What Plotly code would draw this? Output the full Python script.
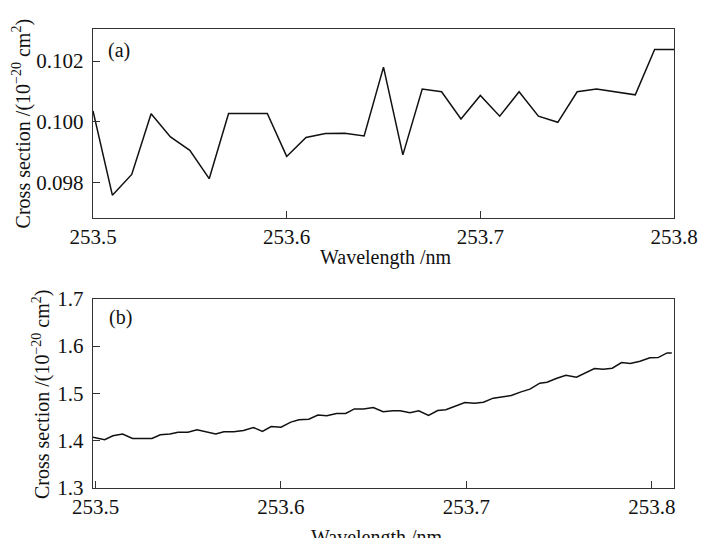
import plotly.graph_objects as go

# Panel (a): coarse spectrum, 0.01 nm sampling
wl_a = [253.50, 253.51, 253.52, 253.53, 253.54, 253.55, 253.56, 253.57, 253.58, 253.59,
        253.60, 253.61, 253.62, 253.63, 253.64, 253.65, 253.66, 253.67, 253.68, 253.69,
        253.70, 253.71, 253.72, 253.73, 253.74, 253.75, 253.76, 253.77, 253.78, 253.79,
        253.80]
xs_a = [0.10036, 0.09760, 0.09828, 0.10027, 0.09951, 0.09907, 0.09814, 0.10028, 0.10028, 0.10028,
        0.09887, 0.09949, 0.09962, 0.09963, 0.09954, 0.10180, 0.09892, 0.10108, 0.10099, 0.10010,
        0.10087, 0.10019, 0.10099, 0.10019, 0.09999, 0.10099, 0.10108, 0.10098, 0.10089, 0.10238,
        0.10238]

# Panel (b): fine spectrum
wl_b = [253.4984, 253.5049, 253.5093, 253.5146, 253.5199, 253.5251, 253.5304, 253.5349,
        253.5401, 253.5445, 253.5498, 253.5547, 253.5595, 253.5648, 253.5692, 253.5745,
        253.5798, 253.5851, 253.5900, 253.5947, 253.6000, 253.6053, 253.6097, 253.6150,
        253.6199, 253.6247, 253.6300, 253.6349, 253.6396, 253.6445, 253.6498, 253.6551,
        253.6604, 253.6643, 253.6696, 253.6743, 253.6796, 253.6845, 253.6889, 253.6942,
        253.6992, 253.7044, 253.7092, 253.7145, 253.7189, 253.7242, 253.7295, 253.7343,
        253.7396, 253.7435, 253.7488, 253.7537, 253.7594, 253.7638, 253.7691, 253.7738,
        253.7787, 253.7837, 253.7884, 253.7937, 253.7990, 253.8034, 253.8083, 253.8108]
xs_b = [1.4072, 1.4020, 1.4103, 1.4139, 1.4046, 1.4046, 1.4046, 1.4124,
        1.4139, 1.4180, 1.4180, 1.4230, 1.4180, 1.4140, 1.4188, 1.4188,
        1.4215, 1.4278, 1.4194, 1.4300, 1.4286, 1.4392, 1.4441, 1.4455,
        1.4540, 1.4525, 1.4574, 1.4574, 1.4672, 1.4672, 1.4700, 1.4610,
        1.4631, 1.4631, 1.4589, 1.4631, 1.4532, 1.4637, 1.4652, 1.4736,
        1.4806, 1.4793, 1.4814, 1.4899, 1.4920, 1.4954, 1.5032, 1.5089,
        1.5215, 1.5236, 1.5320, 1.5384, 1.5342, 1.5426, 1.5523, 1.5510,
        1.5531, 1.5650, 1.5629, 1.5679, 1.5750, 1.5755, 1.5854, 1.5854]

x_ticks = [253.5, 253.6, 253.7, 253.8]
ya_ticks = [0.098, 0.100, 0.102]
yb_ticks = [1.3, 1.4, 1.5, 1.6, 1.7]

FONT = "Liberation Serif"
INK = "#111111"
FRAME = "#333333"
FS = 21

fig = go.Figure()
fig.add_trace(go.Scatter(x=wl_a, y=xs_a, mode="lines", xaxis="x", yaxis="y",
                         line=dict(color=INK, width=1.5), showlegend=False))
fig.add_trace(go.Scatter(x=wl_b, y=xs_b, mode="lines", xaxis="x2", yaxis="y2",
                         line=dict(color=INK, width=1.5), showlegend=False))

axis_common = dict(showline=True, linecolor=FRAME, linewidth=1.4, mirror=True,
                   ticks="inside", ticklen=7, tickwidth=1.3, tickcolor=FRAME,
                   showgrid=False, zeroline=False,
                   tickfont=dict(family=FONT, size=FS, color=INK))

fig.update_layout(
    width=710, height=538,
    margin=dict(l=93, r=25, t=29, b=50),
    paper_bgcolor="white", plot_bgcolor="white",
    xaxis=dict(domain=[0, 1], anchor="y", range=[253.5, 253.8],
               tickvals=x_ticks, tickformat=".1f", **axis_common),
    yaxis=dict(domain=[0.5882, 1.0], anchor="x", range=[0.09685, 0.10305],
               tickvals=ya_ticks, tickformat=".3f", ticklabelstandoff=4, **axis_common),
    xaxis2=dict(domain=[0, 1], anchor="y2", range=[253.4986, 253.812],
                tickvals=x_ticks, tickformat=".1f", **axis_common),
    yaxis2=dict(domain=[0, 0.4124], anchor="x2", range=[1.3, 1.7],
                tickvals=yb_ticks, tickformat=".1f", ticklabelstandoff=4, **axis_common),
)

ytitle = "Cross section /(10<sup>−20</sup> cm<sup>2</sup>)"
title_font = dict(family=FONT, size=20, color=INK)
annotations = [
    dict(text=ytitle, x=-0.1233, y=0.793, textangle=-90),
    dict(text=ytitle, x=-0.0895, y=0.2026, textangle=-90),
    dict(text="Wavelength /nm", x=0.504, y=0.5011),
    dict(text="Wavelength /nm", x=0.488, y=-0.107),
    dict(text="(a)", x=0.0456, y=0.9542),
    dict(text="(b)", x=0.0473, y=0.3725),
]
for a in annotations:
    fig.add_annotation(xref="paper", yref="paper", showarrow=False,
                       xanchor="center", yanchor="middle", font=title_font, **a)

fig.write_html("out.html")
